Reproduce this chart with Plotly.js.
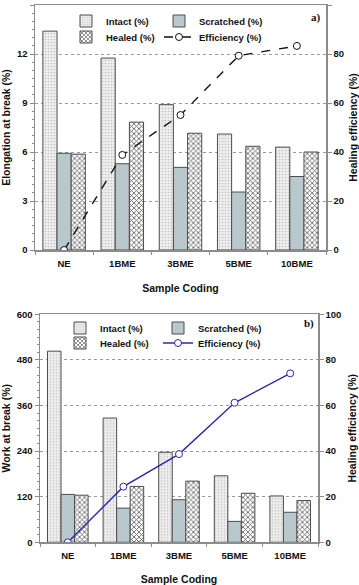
<!DOCTYPE html>
<html>
<head>
<meta charset="utf-8">
<script src="https://cdn.plot.ly/plotly-3.0.1.min.js"></script>
<style>
  html, body { margin: 0; padding: 0; background: #fff; }
  #plot { width: 359px; height: 585px; }
</style>
</head>
<body>
<div id="plot"></div>
<script>
// sample codes on the x axis
var categories = ["NE", "1BME", "3BME", "5BME", "10BME"];

// panel a) elongation at break (%) and healing efficiency (%)
var elongIntact = [13.4, 11.75, 8.9, 7.1, 6.3];
var elongScratched = [5.92, 5.28, 5.06, 3.55, 4.5];
var elongHealed = [5.87, 7.83, 7.15, 6.35, 6.0];
var elongEfficiency = [0, 38.8, 55.1, 79.3, 83.3];

// panel b) work at break (%) and healing efficiency (%)
var workIntact = [503, 327, 237, 175, 122];
var workScratched = [126, 90, 112, 55, 79];
var workHealed = [124, 147, 161, 129, 110];
var workEfficiency = [0, 24.4, 38.7, 61.2, 74.1];

var FONT = "Liberation Sans, Arial, sans-serif";
var AXIS_GRAY = "#8c8c8c";
var BAR_LINE = {color: "#4d4d4d", width: 1};

function bars(name, y, xa, ya, kind, legend) {
    var marker = {line: BAR_LINE};
    if (kind == "intact") {
        marker.color = "#efefef";
        marker.pattern = {shape: ".", fgcolor: "#c4c4c4", bgcolor: "#efefef", size: 3, solidity: 0.25};
    } else if (kind == "scratched") {
        marker.color = "#b8c8cc";
    } else {
        marker.color = "#ffffff";
        marker.pattern = {shape: "x", fgcolor: "#6a6a6a", bgcolor: "#ffffff", size: 3.5, solidity: 0.45};
    }
    return {
        type: "bar", name: name, x: categories, y: y,
        xaxis: xa, yaxis: ya, marker: marker, legend: legend
    };
}

function efficiency(y, xa, ya, color, dash, legend) {
    return {
        type: "scatter", mode: "lines+markers", name: "Efficiency (%)",
        x: categories, y: y, xaxis: xa, yaxis: ya, legend: legend,
        line: {color: color, width: 1.4, dash: dash},
        marker: {symbol: "circle", size: 7, color: "#ffffff", line: {color: color, width: 1}}
    };
}

var traces = [
    bars("Intact (%)", elongIntact, "x", "y", "intact", "legend"),
    bars("Scratched (%)", elongScratched, "x", "y", "scratched", "legend2"),
    bars("Healed (%)", elongHealed, "x", "y", "healed", "legend3"),
    efficiency(elongEfficiency, "x", "y2", "#111111", "dash", "legend4"),
    bars("Intact (%)", workIntact, "x2", "y3", "intact", "legend5"),
    bars("Scratched (%)", workScratched, "x2", "y3", "scratched", "legend6"),
    bars("Healed (%)", workHealed, "x2", "y3", "healed", "legend7"),
    efficiency(workEfficiency, "x2", "y4", "#2a2aa8", "solid", "legend8")
];

var tickFont = {family: FONT, size: 9.5, color: "#111", weight: "bold"};
var titleFont = {family: FONT, size: 10.5, color: "#111", weight: "bold"};

function xAxis(domain, anchor) {
    return {
        domain: domain, anchor: anchor, type: "category", range: [-0.5, 4.5],
        tickson: "boundaries", ticks: "outside", ticklen: 3, tickcolor: AXIS_GRAY,
        showline: true, linecolor: AXIS_GRAY, linewidth: 1.5, mirror: true,
        showgrid: false, tickfont: tickFont, ticklabelstandoff: 4,
        title: {text: "Sample Coding", font: titleFont, standoff: 16}
    };
}

function leftAxis(domain, anchor, range, dtick, minor, title) {
    return {
        domain: domain, anchor: anchor, range: range, dtick: dtick,
        ticks: "outside", ticklen: 4, tickcolor: AXIS_GRAY,
        showline: true, linecolor: AXIS_GRAY, linewidth: 1.5,
        showgrid: true, gridcolor: "#9a9a9a", griddash: "dot", gridwidth: 1,
        zeroline: false, tickfont: tickFont,
        minor: {dtick: minor, ticks: "outside", ticklen: 2, tickcolor: AXIS_GRAY, showgrid: false},
        title: {text: title, font: titleFont, standoff: 8}
    };
}

function rightAxis(over, anchor) {
    return {
        overlaying: over, anchor: anchor, side: "right", range: [0, 100], dtick: 20,
        ticks: "outside", ticklen: 4, tickcolor: AXIS_GRAY,
        showline: true, linecolor: AXIS_GRAY, linewidth: 1.5,
        showgrid: false, zeroline: false, tickfont: tickFont,
        title: {text: "Healing efficiency (%)", font: titleFont, standoff: 8}
    };
}

function legendAt(x, y) {
    return {
        x: x, y: y, xanchor: "left", yanchor: "middle",
        bgcolor: "rgba(0,0,0,0)", borderwidth: 0, itemwidth: 30,
        font: {family: FONT, size: 9.5, color: "#111", weight: "bold"}
    };
}

var H = 585;
var layout = {
    width: 359, height: 585,
    margin: {l: 0, r: 0, t: 0, b: 0},
    paper_bgcolor: "#ffffff", plot_bgcolor: "#ffffff",
    barmode: "group", bargap: 0.27, bargroupgap: 0,
    showlegend: true,
    xaxis: xAxis([35 / 359, 326 / 359], "y"),
    yaxis: leftAxis([1 - 250 / H, 1 - 5 / H], "x", [0, 15], 3, 0.5, "Elongation at break (%)"),
    yaxis2: rightAxis("y", "x"),
    xaxis2: xAxis([40 / 359, 318 / 359], "y3"),
    yaxis3: leftAxis([1 - 542.3 / H, 1 - 314.3 / H], "x2", [0, 600], 120, 20, "Work at break (%)"),
    yaxis4: rightAxis("y3", "x2"),
    legend: legendAt(66 / 359, 1 - 21 / H),
    legend2: legendAt(159 / 359, 1 - 21 / H),
    legend3: legendAt(66 / 359, 1 - 37 / H),
    legend4: legendAt(159 / 359, 1 - 37 / H),
    legend5: legendAt(60 / 359, 1 - 328 / H),
    legend6: legendAt(158 / 359, 1 - 328 / H),
    legend7: legendAt(60 / 359, 1 - 343 / H),
    legend8: legendAt(158 / 359, 1 - 343 / H),
    annotations: [
        {text: "a)", xref: "paper", yref: "paper", x: 323 / 359, y: 1 - 17 / H,
         xanchor: "right", yanchor: "middle", showarrow: false,
         font: {family: "Liberation Serif, Times New Roman, serif", size: 11, color: "#111", weight: "bold"}},
        {text: "b)", xref: "paper", yref: "paper", x: 316 / 359, y: 1 - 323 / H,
         xanchor: "right", yanchor: "middle", showarrow: false,
         font: {family: "Liberation Serif, Times New Roman, serif", size: 11, color: "#111", weight: "bold"}}
    ]
};

Plotly.newPlot("plot", traces, layout, {displayModeBar: false, staticPlot: true});
</script>
</body>
</html>
